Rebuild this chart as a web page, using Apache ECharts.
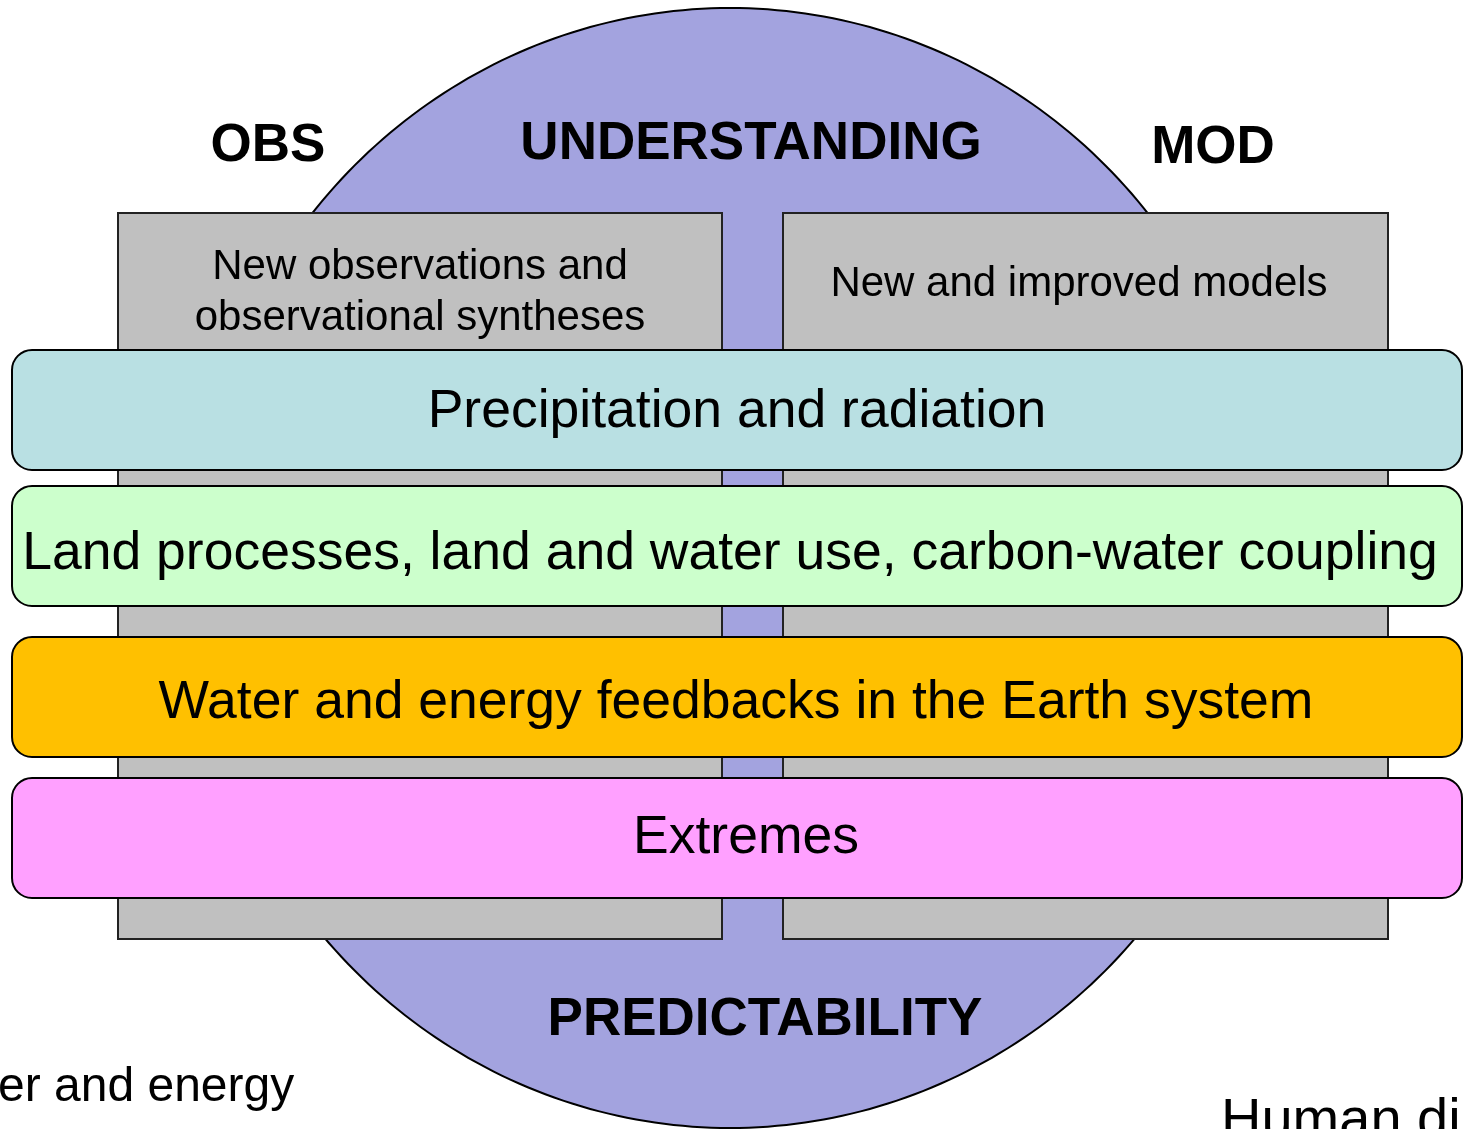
<!DOCTYPE html>
<html><head><meta charset="utf-8">
<script src="https://cdn.jsdelivr.net/npm/echarts@6/dist/echarts.min.js"></script>
<style>html,body{margin:0;padding:0;background:#fff;overflow:hidden}#c{width:1463px;height:1129px}</style>
</head><body><div id="c"></div>
<script>
// ---- text content ----
const headerLabels = ['OBS', 'UNDERSTANDING', 'MOD'];
const footerLabels = ['PREDICTABILITY'];
const columnLabels = ['New observations and\nobservational syntheses', 'New and improved models'];
const bandLabels = [
  'Precipitation and radiation',
  'Land processes, land and water use, carbon-water coupling',
  'Water and energy feedbacks in the Earth system',
  'Extremes'
];
const sideLabels = ['er and energy', 'Human di'];

// ---- layout (diagram units = pixels of the 1463x1129 canvas) ----
const layout = {
  ellipse: { cx: 730, cy: 568, rx: 540, ry: 560 },
  columns: [[118, 213, 722, 939], [783, 213, 1388, 939]],
  bands: [[12, 350, 1462, 470], [12, 486, 1462, 606], [12, 637, 1462, 757], [12, 778, 1462, 898]],
  headerPos: [[268, 146], [751, 144], [1213, 148]],
  footerPos: [[765, 1020]],
  columnTextPos: [[420, 293], [1079, 284]],
  bandTextPos: [[737, 412], [730, 554], [736, 703], [746, 838]],
  sidePos: [[-2, 1088], [1221, 1122]]
};
const style = {
  font: "'Liberation Sans', Arial, Helvetica, sans-serif",
  ellipseFill: '#a3a3df',
  columnFill: '#c0c0c0',
  bandFills: ['#b9e0e3', '#ccffcc', '#ffc000', '#ffa0ff']
};

const chart = echarts.init(document.getElementById('c'));
const idx = n => Array.from({ length: n }, (_, i) => [i]);

const option = {
  animation: false,
  grid: { left: 0, right: 0, top: 0, bottom: 0 },
  xAxis: { type: 'value', min: 0, max: 1463, show: false },
  yAxis: { type: 'value', min: 0, max: 1129, inverse: true, show: false },
  series: [
    {
      type: 'custom', z: 1, data: idx(1), clip: false,
      renderItem(params, api) {
        const e = layout.ellipse;
        const pts = [];
        for (let k = 0; k < 360; k++) {
          const t = k / 360 * Math.PI * 2;
          pts.push(api.coord([e.cx + e.rx * Math.cos(t), e.cy + e.ry * Math.sin(t)]));
        }
        return { type: 'polygon', shape: { points: pts }, style: { fill: style.ellipseFill, stroke: '#000', lineWidth: 2 } };
      }
    },
    {
      type: 'custom', z: 2, data: idx(layout.columns.length), clip: false,
      renderItem(params, api) {
        const c = layout.columns[api.value(0)];
        const p0 = api.coord([c[0], c[1]]), p1 = api.coord([c[2], c[3]]);
        return { type: 'rect', shape: { x: p0[0], y: p0[1], width: p1[0] - p0[0], height: p1[1] - p0[1] },
          style: { fill: style.columnFill, stroke: '#222', lineWidth: 2 } };
      }
    },
    {
      type: 'custom', z: 3, data: idx(layout.bands.length), clip: false,
      renderItem(params, api) {
        const i = api.value(0);
        const b = layout.bands[i];
        const p0 = api.coord([b[0], b[1]]), p1 = api.coord([b[2], b[3]]);
        return { type: 'rect', shape: { x: p0[0], y: p0[1], width: p1[0] - p0[0], height: p1[1] - p0[1], r: 20 },
          style: { fill: style.bandFills[i], stroke: '#000', lineWidth: 2 } };
      }
    },
    {
      type: 'custom', z: 4, data: idx(1), clip: false,
      renderItem(params, api) {
        const children = [];
        const add = (txt, pos, size, weight, align, lh) => {
          const p = api.coord(pos);
          children.push({ type: 'text', style: {
            text: txt, x: p[0], y: p[1], fill: '#000',
            font: weight + ' ' + size + 'px ' + style.font,
            align: align, verticalAlign: 'middle', lineHeight: lh || size
          } });
        };
        headerLabels.forEach((t, i) => add(t, layout.headerPos[i], 53, 'bold', 'center'));
        footerLabels.forEach((t, i) => add(t, layout.footerPos[i], 53, 'bold', 'center'));
        columnLabels.forEach((t, i) => add(t, layout.columnTextPos[i], 42, 'normal', 'center', 51));
        bandLabels.forEach((t, i) => add(t, layout.bandTextPos[i], 53.5, 'normal', 'center'));
        add(sideLabels[0], layout.sidePos[0], 48, 'normal', 'left');
        add(sideLabels[1], layout.sidePos[1], 56, 'normal', 'left');
        return { type: 'group', children };
      }
    }
  ]
};
chart.setOption(option);
</script>
</body></html>
